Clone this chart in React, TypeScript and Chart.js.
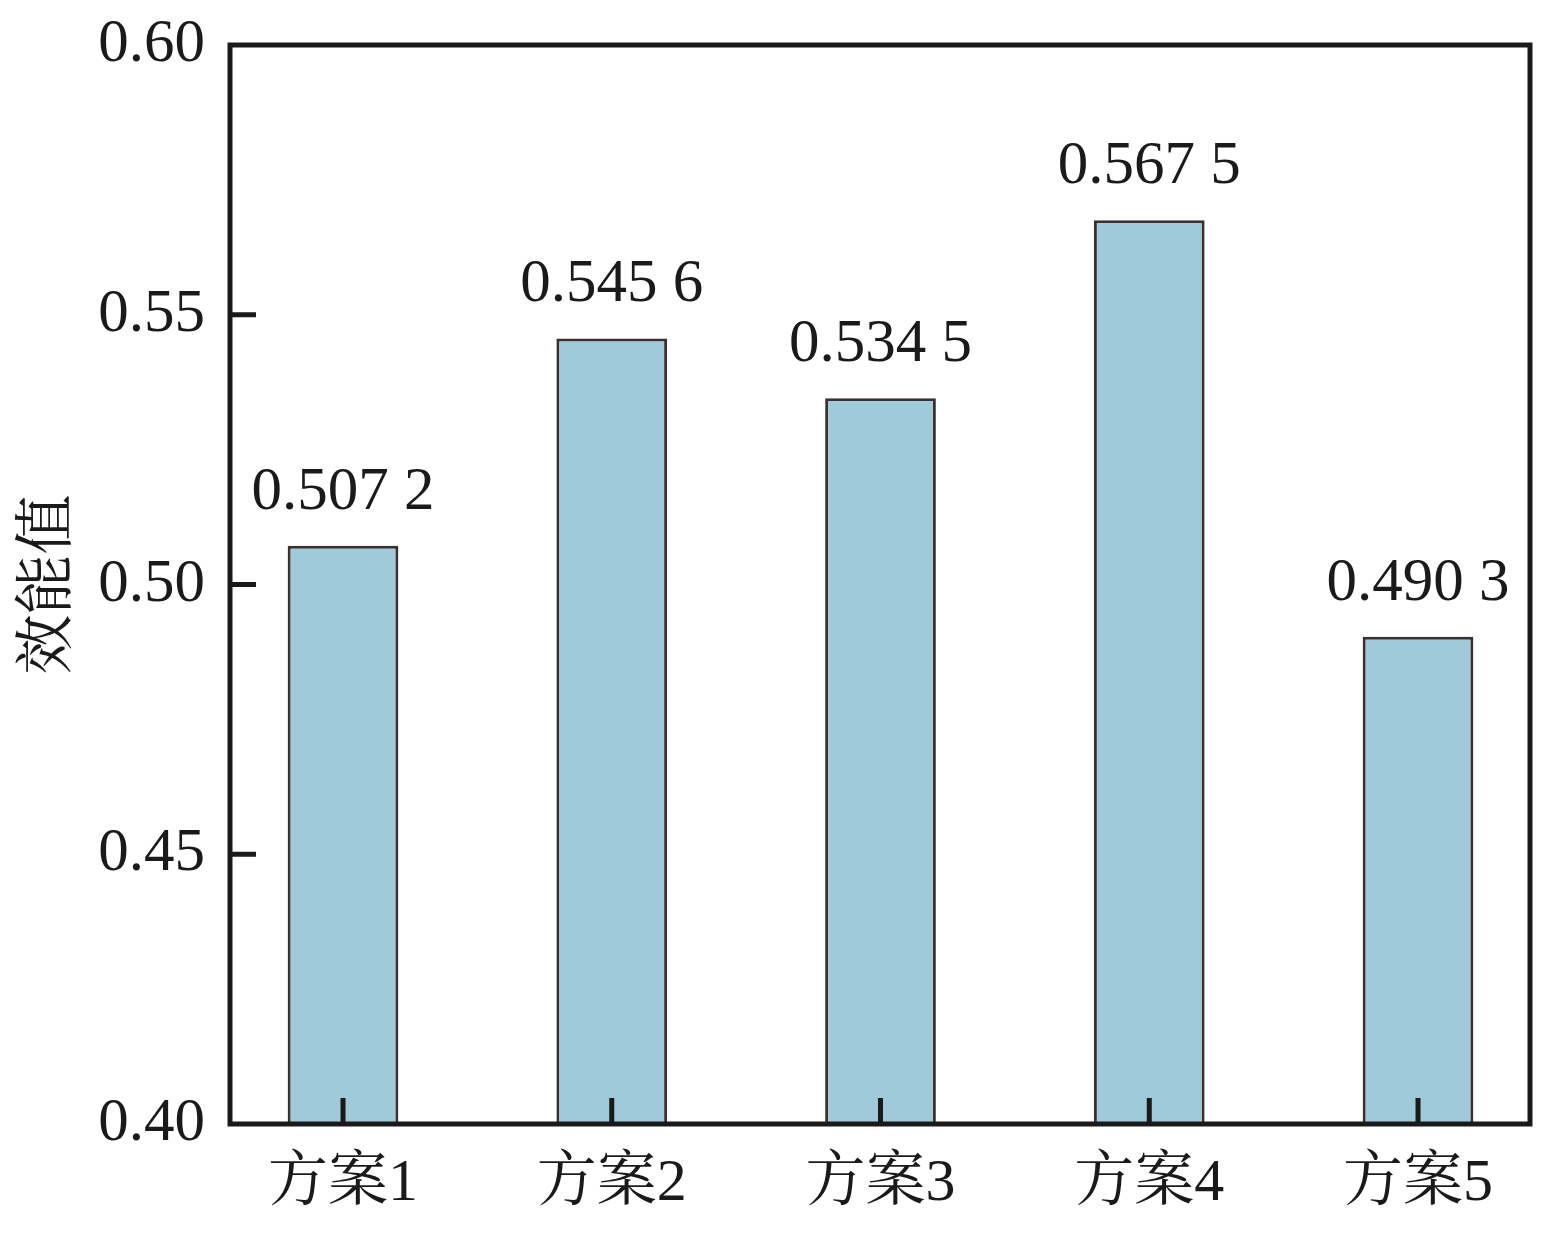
import React, { useEffect, useRef } from 'react';
import { Chart, registerables, Plugin } from 'chart.js';

Chart.register(...registerables);

// Datos del gráfico
const categories = ['方案1', '方案2', '方案3', '方案4', '方案5'];
const values = [0.5072, 0.5456, 0.5345, 0.5675, 0.4903];
const yTicks = [0.4, 0.45, 0.5, 0.55, 0.6];
const yTitle = '效能值';

const FONT = '"Liberation Serif", "Noto Serif CJK SC", "Noto Sans CJK SC", serif';
const INK = '#1a1a1a';

// 0.5072 -> "0.507 2"
const fmt = (v: number) => {
  const s = v.toFixed(4);
  return s.slice(0, 5) + ' ' + s.slice(5);
};

// Marco, marcas interiores y etiquetas de valor
const framePlugin: Plugin<'bar'> = {
  id: 'frame',
  afterDraw(chart) {
    const { ctx, chartArea: a, scales } = chart;
    const x = scales.x;
    const y = scales.y;
    ctx.save();
    ctx.strokeStyle = INK;
    ctx.lineWidth = 5;
    ctx.strokeRect(a.left, a.top, a.right - a.left, a.bottom - a.top);

    ctx.beginPath();
    yTicks.slice(1, -1).forEach((t) => {
      const py = y.getPixelForValue(t);
      ctx.moveTo(a.left, py);
      ctx.lineTo(a.left + 26, py);
    });
    categories.forEach((_, i) => {
      const px = x.getPixelForValue(i);
      ctx.moveTo(px, a.bottom);
      ctx.lineTo(px, a.bottom - 26);
    });
    ctx.stroke();

    const meta = chart.getDatasetMeta(0);
    ctx.fillStyle = INK;
    ctx.font = `61px ${FONT}`;
    ctx.textAlign = 'center';
    ctx.textBaseline = 'alphabetic';
    meta.data.forEach((bar: any, i: number) => {
      ctx.fillText(fmt(values[i]), bar.x, bar.y - 37);
    });
    ctx.restore();
  },
};

const App: React.FC = () => {
  const canvasRef = useRef<HTMLCanvasElement>(null);

  useEffect(() => {
    if (!canvasRef.current) return;
    const chart = new Chart(canvasRef.current, {
      type: 'bar',
      data: {
        datasets: [
          {
            data: categories.map((_, i) => ({ x: i, y: values[i] })),
            backgroundColor: '#A0CAD9',
            borderColor: '#3b3030',
            borderWidth: 3,
            barPercentage: 0.412,
            categoryPercentage: 1,
          },
        ],
      },
      options: {
        animation: false,
        responsive: false,
        maintainAspectRatio: false,
        devicePixelRatio: 1,
        layout: { padding: { top: 45, right: 29, left: 0, bottom: 0 } },
        plugins: { legend: { display: false }, tooltip: { enabled: false } },
        scales: {
          x: {
            type: 'linear',
            offset: false,
            min: -0.4205,
            max: 4.4167,
            grid: { display: false, drawTicks: false },
            border: { display: false },
            ticks: {
              stepSize: 1,
              includeBounds: false,
              autoSkip: false,
              maxRotation: 0,
              padding: 24,
              color: INK,
              font: { family: FONT, size: 60 },
              callback: (v) => (Number.isInteger(v) ? categories[v as number] : ''),
            },
            afterFit: (s) => {
              s.height = 113;
              s.paddingLeft = 0;
              s.paddingRight = 0;
            },
          },
          y: {
            min: 0.4,
            max: 0.6,
            grid: { display: false, drawTicks: false },
            border: { display: false },
            afterBuildTicks: (s) => {
              s.ticks = yTicks.map((v) => ({ value: v }));
            },
            ticks: {
              padding: 25,
              color: INK,
              font: { family: FONT, size: 61 },
              callback: (v) => Number(v).toFixed(2),
            },
            title: {
              display: true,
              text: yTitle,
              color: INK,
              font: { family: FONT, size: 60 },
              padding: { top: 14, bottom: 0 },
            },
            afterFit: (s) => {
              s.width = 230;
              s.paddingTop = 0;
              s.paddingBottom = 0;
            },
          },
        },
      },
      plugins: [framePlugin],
    });
    return () => chart.destroy();
  }, []);

  return (
    <div style={{ position: 'absolute', left: 0, top: 0, width: 1559, height: 1237, background: '#fff' }}>
      <canvas ref={canvasRef} width={1559} height={1237} style={{ width: 1559, height: 1237 }} />
    </div>
  );
};

export default App;
